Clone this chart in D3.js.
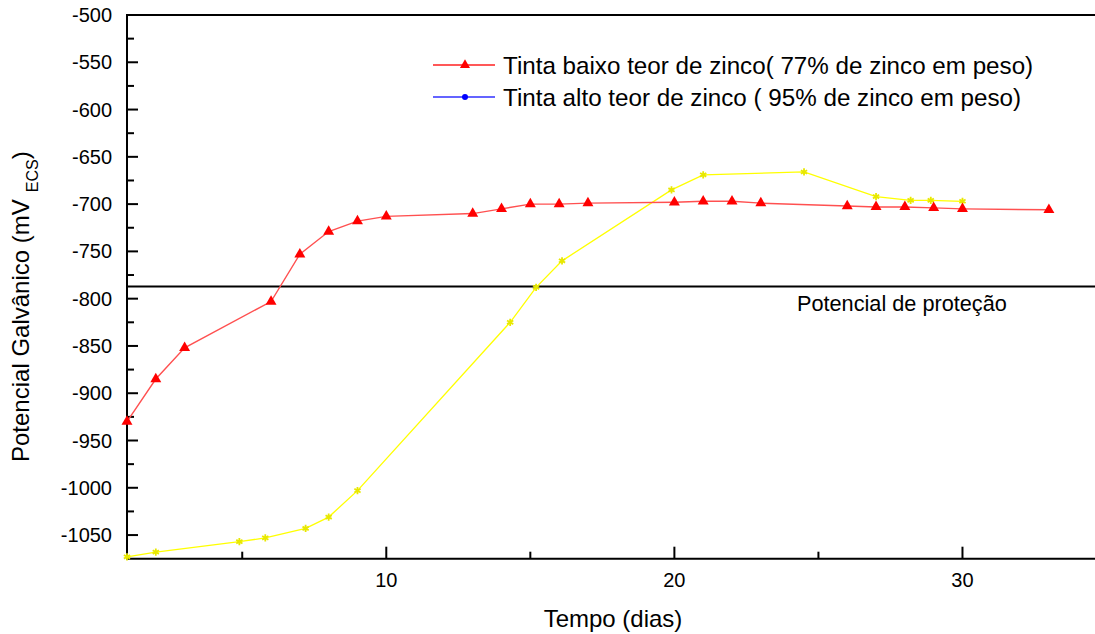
<!DOCTYPE html>
<html>
<head>
<meta charset="utf-8">
<script src="https://cdn.jsdelivr.net/npm/d3@7"></script>
<style>
  html, body { margin: 0; padding: 0; background: #fff; }
  svg { display: block; font-family: "Liberation Sans", Arial, sans-serif; }
</style>
</head>
<body>
<svg id="chart" width="1095" height="634"></svg>
<script>
// ---- data ----
const lowZincDays   = [1, 2, 3, 6, 7, 8, 9, 10, 13, 14, 15, 16, 17, 20, 21, 22, 23, 26, 27, 28, 29, 30, 33];
const lowZincValues = [-930, -885, -852, -803, -753, -729, -718, -713, -710, -705, -700, -700, -699, -698, -697, -697, -699, -702, -703, -703, -704, -705, -706];
const highZincDays   = [1, 2, 4.9, 5.8, 7.2, 8, 9, 14.3, 15.2, 16.1, 19.9, 21, 24.5, 27, 28.2, 28.9, 30];
const highZincValues = [-1073, -1068, -1057, -1053, -1043, -1031, -1003, -825, -788, -760, -685, -669, -666, -692, -696, -696, -697];
const protectionPotential = -787;
const xMajorTicks = [10, 20, 30];
const xMinorTicks = [5, 15, 25];
const yMajorTicks = [-500, -550, -600, -650, -700, -750, -800, -850, -900, -950, -1000, -1050];
const yMinorTicks = [-525, -575, -625, -675, -725, -775, -825, -875, -925, -975, -1025];
const legendLabels = ["Tinta baixo teor de zinco( 77% de zinco em peso)", "Tinta alto teor de zinco ( 95% de zinco em peso)"];
const xTitle = "Tempo (dias)";
const protectionLabel = "Potencial de proteção";

// ---- layout ----
const svg = d3.select("#chart");
const pLeft = 127, pRight = 1095, pTop = 15, pBottom = 558.7;
const x = d3.scaleLinear().domain([1, 34.6]).range([pLeft, pRight]);
const y = d3.scaleLinear().domain([-1075, -500]).range([pBottom, pTop]);

// frame top line
svg.append("line").attr("x1", pLeft).attr("x2", pRight).attr("y1", pTop).attr("y2", pTop)
  .attr("stroke", "#000").attr("stroke-width", 2);

// y axis
const yAxis = svg.append("g").attr("transform", `translate(${pLeft},0)`);
yAxis.append("line").attr("x1", 0).attr("x2", 0).attr("y1", pTop - 1).attr("y2", pBottom + 1)
  .attr("stroke", "#000").attr("stroke-width", 2);
yAxis.selectAll(".ymaj").data(yMajorTicks).join("line")
  .attr("x1", 0).attr("x2", 11).attr("y1", d => y(d)).attr("y2", d => y(d))
  .attr("stroke", "#000").attr("stroke-width", 2);
yAxis.selectAll(".ymin").data(yMinorTicks).join("line")
  .attr("x1", 0).attr("x2", 7).attr("y1", d => y(d)).attr("y2", d => y(d))
  .attr("stroke", "#000").attr("stroke-width", 2);
yAxis.selectAll(".ylab").data(yMajorTicks).join("text")
  .attr("x", -15).attr("y", d => y(d) + 7)
  .attr("text-anchor", "end").attr("font-size", 20).attr("fill", "#000")
  .text(d => String(d));

// x axis
const xAxis = svg.append("g").attr("transform", `translate(0,${pBottom})`);
xAxis.append("line").attr("x1", pLeft - 1).attr("x2", pRight).attr("y1", 0).attr("y2", 0)
  .attr("stroke", "#000").attr("stroke-width", 2);
xAxis.selectAll(".xmaj").data(xMajorTicks).join("line")
  .attr("x1", d => x(d)).attr("x2", d => x(d)).attr("y1", 0).attr("y2", -12)
  .attr("stroke", "#000").attr("stroke-width", 2);
xAxis.selectAll(".xmin").data(xMinorTicks).join("line")
  .attr("x1", d => x(d)).attr("x2", d => x(d)).attr("y1", 0).attr("y2", -7)
  .attr("stroke", "#000").attr("stroke-width", 2);
xAxis.selectAll(".xlab").data(xMajorTicks).join("text")
  .attr("x", d => x(d)).attr("y", 28)
  .attr("text-anchor", "middle").attr("font-size", 20).attr("fill", "#000")
  .text(d => String(d));

// axis titles
svg.append("text").attr("x", 613).attr("y", 627).attr("text-anchor", "middle")
  .attr("font-size", 24).attr("fill", "#000").text(xTitle);

const yt = svg.append("text").attr("transform", "translate(29,462) rotate(-90)")
  .attr("font-size", 24).attr("fill", "#000");
yt.append("tspan").text("Potencial Galvânico (mV");
yt.append("tspan").attr("dx", 7).attr("dy", 9).attr("font-size", 16).text("ECS");
yt.append("tspan").attr("dy", -9).text(")");

// protection line
svg.append("line").attr("x1", pLeft).attr("x2", pRight)
  .attr("y1", y(protectionPotential)).attr("y2", y(protectionPotential))
  .attr("stroke", "#000").attr("stroke-width", 2);
svg.append("text").attr("x", 797).attr("y", y(protectionPotential) + 25)
  .attr("font-size", 21.7).attr("fill", "#000").text(protectionLabel);

// series
const lowData = lowZincDays.map((d, i) => [d, lowZincValues[i]]);
const highData = highZincDays.map((d, i) => [d, highZincValues[i]]);
const line = d3.line().x(d => x(d[0])).y(d => y(d[1]));

svg.append("path").datum(highData).attr("d", line)
  .attr("fill", "none").attr("stroke", "#ffff00").attr("stroke-width", 1.3);
svg.append("path").datum(lowData).attr("d", line)
  .attr("fill", "none").attr("stroke", "#ff5050").attr("stroke-width", 1.4);

svg.selectAll(".hz").data(highData).join("path")
  .attr("transform", d => `translate(${x(d[0])},${y(d[1])})`)
  .attr("d", d3.symbol(d3.symbolAsterisk, 36))
  .attr("fill", "none").attr("stroke", "#e8e800").attr("stroke-width", 1.8);

svg.selectAll(".lz").data(lowData).join("path")
  .attr("transform", d => `translate(${x(d[0])},${y(d[1])})`)
  .attr("d", d3.symbol(d3.symbolTriangle, 52))
  .attr("fill", "#ff0000");

// legend
const lg = svg.append("g");
const legendRows = [
  { yc: 65, color: "#ff2020", sym: "tri" },
  { yc: 97, color: "#3030ff", sym: "dot" }
];
legendRows.forEach((r, i) => {
  lg.append("line").attr("x1", 433).attr("x2", 495).attr("y1", r.yc).attr("y2", r.yc)
    .attr("stroke", r.color).attr("stroke-width", 1.3);
  if (r.sym === "tri") {
    lg.append("path").attr("transform", `translate(465,${r.yc})`)
      .attr("d", d3.symbol(d3.symbolTriangle, 44)).attr("fill", "#ff0000");
  } else {
    lg.append("circle").attr("cx", 465).attr("cy", r.yc).attr("r", 3).attr("fill", "#0000ff");
  }
  lg.append("text").attr("x", 503).attr("y", r.yc + 8.5).attr("font-size", 24.2)
    .attr("fill", "#000").text(legendLabels[i]);
});
</script>
</body>
</html>
